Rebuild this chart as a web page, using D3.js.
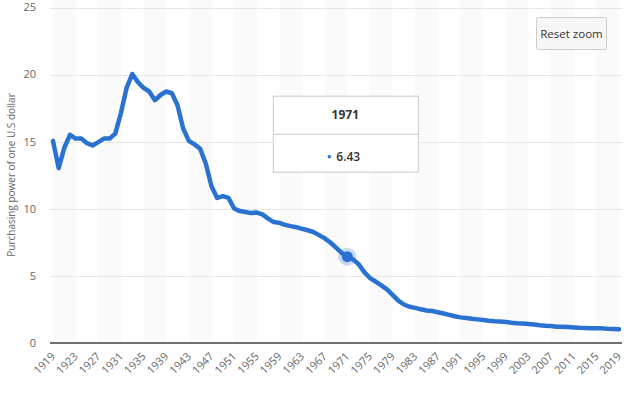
<!DOCTYPE html>
<html>
<head>
<meta charset="utf-8">
<script src="https://cdn.jsdelivr.net/npm/d3@7"></script>
<style>
  body { margin: 0; background: #fff; }
  svg { display: block; font-family: "Open Sans", sans-serif; }
</style>
</head>
<body>
<svg id="chart" width="636" height="395"></svg>
<script>
// Purchasing power of one U.S. dollar, 1919-2019
const years = d3.range(1919, 2020);
const values = [
  15.06, 13.03, 14.55, 15.51, 15.23, 15.23, 14.89, 14.72, 14.97, 15.23,
  15.23, 15.60, 17.14, 19.01, 20.04, 19.44, 19.01, 18.74, 18.09, 18.48,
  18.74, 18.61, 17.72, 15.98, 15.06, 14.80, 14.47, 13.36, 11.68, 10.81,
  10.95, 10.81, 10.02, 9.83, 9.76, 9.68, 9.72, 9.58, 9.27, 9.01,
  8.95, 8.80, 8.71, 8.63, 8.51, 8.40, 8.27, 8.04, 7.80, 7.49,
  7.10, 6.71, 6.43, 6.23, 5.87, 5.28, 4.84, 4.58, 4.30, 4.00,
  3.59, 3.16, 2.87, 2.70, 2.62, 2.51, 2.42, 2.38, 2.29, 2.20,
  2.10, 1.99, 1.91, 1.86, 1.80, 1.76, 1.71, 1.66, 1.62, 1.60,
  1.56, 1.51, 1.47, 1.45, 1.42, 1.38, 1.33, 1.29, 1.26, 1.21,
  1.21, 1.19, 1.16, 1.13, 1.12, 1.10, 1.10, 1.09, 1.06, 1.04,
  1.02
];
const yTicks = [0, 5, 10, 15, 20, 25];
const xTicks = d3.range(1919, 2020, 4);
const highlightYear = 1971;
const yTitle = "Purchasing power of one U.S dollar";

const data = years.map((y, i) => ({ year: y, value: values[i] }));

const svg = d3.select("#chart");
const blue = "#2a72d2";

// Scales
const x = d3.scaleLinear().domain([1919, 2019]).range([53, 619]);
const y = d3.scaleLinear().domain([0, 25]).range([343, 7.5]);
const plotTop = 0, plotBottom = 343, plotLeft = 50, plotRight = 622;

// Alternating bands every 4 years
svg.append("g")
  .selectAll("rect")
  .data(xTicks.filter((d, i) => i % 2 === 0 && d < 2019))
  .join("rect")
  .attr("x", d => x(d))
  .attr("y", plotTop)
  .attr("width", d => x(Math.min(d + 4, 2019)) - x(d))
  .attr("height", plotBottom - plotTop)
  .attr("fill", "#fafafa");

// Grid lines
svg.append("g")
  .selectAll("line")
  .data(yTicks.filter(d => d > 0))
  .join("line")
  .attr("x1", plotLeft)
  .attr("x2", plotRight)
  .attr("y1", d => Math.round(y(d)) + 0.5)
  .attr("y2", d => Math.round(y(d)) + 0.5)
  .attr("stroke", "#e6e6e6")
  .attr("stroke-width", 1);

// Baseline
svg.append("line")
  .attr("x1", plotLeft)
  .attr("x2", plotRight)
  .attr("y1", y(0))
  .attr("y2", y(0))
  .attr("stroke", "#707070")
  .attr("stroke-width", 2);

// Y labels
svg.append("g")
  .selectAll("text")
  .data(yTicks)
  .join("text")
  .attr("x", 36)
  .attr("y", d => y(d))
  .attr("dy", "0.35em")
  .attr("text-anchor", "end")
  .attr("font-size", 11)
  .attr("fill", "#666")
  .text(d => d);

// X labels, rotated
svg.append("g")
  .selectAll("text")
  .data(xTicks)
  .join("text")
  .attr("transform", d => `translate(${x(d) + 3},${plotBottom + 14}) rotate(-45)`)
  .attr("text-anchor", "end")
  .attr("font-size", 11)
  .attr("fill", "#666")
  .text(d => d);

// Axis title
svg.append("text")
  .attr("transform", "rotate(-90)")
  .attr("x", -175)
  .attr("y", 15)
  .attr("text-anchor", "middle")
  .attr("font-size", 10)
  .attr("fill", "#666")
  .text(yTitle);

// Line
const line = d3.line()
  .x(d => x(d.year))
  .y(d => y(d.value));

svg.append("path")
  .datum(data)
  .attr("fill", "none")
  .attr("stroke", blue)
  .attr("stroke-width", 4.5)
  .attr("stroke-linejoin", "round")
  .attr("stroke-linecap", "round")
  .attr("d", line);

// Hovered point
const hp = data.find(d => d.year === highlightYear);
svg.append("circle")
  .attr("cx", x(hp.year))
  .attr("cy", y(hp.value))
  .attr("r", 9)
  .attr("fill", blue)
  .attr("opacity", 0.25);
svg.append("circle")
  .attr("cx", x(hp.year))
  .attr("cy", y(hp.value))
  .attr("r", 5.5)
  .attr("fill", blue);

// Tooltip
const tipW = 145, tipH = 76;
const tipX = x(hp.year) - tipW / 2 - 2;
const tipY = y(hp.value) - 161;
const tip = svg.append("g").attr("transform", `translate(${tipX},${tipY})`);
tip.append("rect")
  .attr("x", 0.5).attr("y", 0.5)
  .attr("width", tipW).attr("height", tipH)
  .attr("fill", "#fff")
  .attr("stroke", "#c8c8c8");
tip.append("line")
  .attr("x1", 0.5).attr("x2", tipW + 0.5)
  .attr("y1", 38.5).attr("y2", 38.5)
  .attr("stroke", "#c8c8c8");
tip.append("text")
  .attr("x", tipW / 2)
  .attr("y", 19)
  .attr("dy", "0.35em")
  .attr("text-anchor", "middle")
  .attr("font-size", 12)
  .attr("font-weight", "bold")
  .attr("fill", "#333")
  .text(hp.year);
tip.append("rect")
  .attr("x", tipW / 2 - 17.5).attr("y", 59.5)
  .attr("width", 3).attr("height", 3)
  .attr("fill", blue);
tip.append("text")
  .attr("x", tipW / 2 - 9)
  .attr("y", 61)
  .attr("dy", "0.35em")
  .attr("font-size", 12)
  .attr("font-weight", 600)
  .attr("fill", "#333")
  .text(hp.value.toFixed(2));

// Reset zoom button
const btn = svg.append("g").attr("transform", "translate(536,17)");
btn.append("rect")
  .attr("x", 0.5).attr("y", 0.5)
  .attr("width", 70).attr("height", 32)
  .attr("rx", 2)
  .attr("fill", "#f7f7f7")
  .attr("stroke", "#cccccc");
btn.append("text")
  .attr("x", 35.5)
  .attr("y", 16.5)
  .attr("dy", "0.35em")
  .attr("text-anchor", "middle")
  .attr("font-size", 11.5)
  .attr("fill", "#333")
  .text("Reset zoom");
</script>
</body>
</html>
